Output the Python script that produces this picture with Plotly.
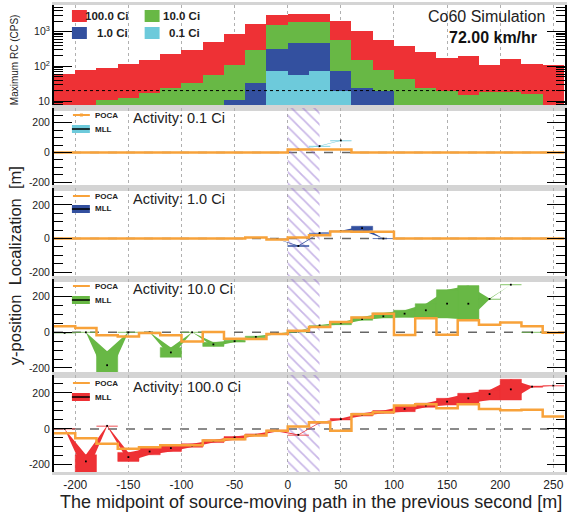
import plotly.graph_objects as go
from plotly.subplots import make_subplots

W, H = 568, 512
ML, MR, MT, MB = 54, 1, 5, 40
FONT = "Liberation Sans, Arial, sans-serif"

# ---------------- data ----------------
bin_centers = [-210, -190, -170, -150, -130, -110, -90, -70, -50, -30, -10,
               10, 30, 50, 70, 90, 110, 130, 150, 170, 190, 210, 230, 250]
bin_width = 20

# maximum rate count (CPS) per bin
rc_100ci = [61, 76, 89, 119, 152, 219, 303, 510, 830, 1620, 2970, 3160, 3160,
            2020, 1030, 590, 380, 253, 174, 194, 106, 163, 117, 106]
rc_10ci = [None, None, 10.7, 11.9, 16.7, 23.4, 34, 57, 111, 303, 1520, 1900,
           1900, 590, 156, 80, 44, 23, 20, 15, 18.6, 18.6, 16, None]
rc_1ci = [None] * 8 + [11, 34, 318, 477, 477, 74, 23, 20] + [None] * 8
rc_01ci = [None] * 10 + [74, 57, 71, 20] + [None] * 10
rc_threshold = 20

# POCA localization (m)
poca_01 = [0] * 11 + [20, 20, 20] + [0] * 10
poca_1 = [0] * 9 + [6, -6, 6, 19, 42, 40, 40] + [0] * 8
poca_10 = [34, 24, -17, -23, -4, -17, -51, 2, -36, -38, -9, 9, 30, 58, 83, 105,
           -15, 79, -13, 68, 43, 56, 34, -2]
poca_100 = [-24, -52, -83, -111, -102, -91, -91, -65, -57, -37, -11, 13, 37,
            -11, 81, 93, 130, 137, 115, 137, 111, 104, 107, 69]

# MLL localization (m): value, lower, upper
mll_01 = [None] * 11 + [20, 43, 81] + [None] * 10
mll_01_lo = [None] * 11 + [20, 41, 79] + [None] * 10
mll_01_hi = [None] * 11 + [20, 45, 83] + [None] * 10

mll_1 = [None] * 10 + [-3, -44, 33, 45, 62, 0] + [None] * 8
mll_1_lo = [None] * 10 + [-3, -47, 31, 43, 48, 0] + [None] * 8
mll_1_hi = [None] * 10 + [-3, -41, 35, 47, 73, 0] + [None] * 8

mll_10 = [-3, 0, -185, 0, 0, -113, 0, -68, -50, -26, -8, 5, 39, 51, 75, 90,
          105, 124, 161, 161, 188, 268, 0, None]
mll_10_lo = [-3, 0, -265, 0, 0, -140, 0, -79, -55, -30, -10, 3, 37, 43, 68, 81,
             85, 85, 81, 71, 186, 268, 0, None]
mll_10_hi = [-3, 0, -107, 0, 0, -85, 0, -56, -45, -22, -6, 7, 41, 56, 86, 109,
             124, 161, 240, 263, 190, 268, 0, None]

mll_100 = [0, -181, 17, -157, -126, -107, -94, -68, -48, -33, -10, -33, 35, 54,
           78, 93, 111, 130, 152, 170, 194, 220, 235, 241]
mll_100_lo = [0, -260, 15, -181, -144, -126, -102, -76, -61, -39, -15, -35, 33,
              50, 72, 87, 96, 120, 133, 143, 161, 161, 232, 240]
mll_100_hi = [0, -144, 19, -131, -107, -89, -83, -61, -43, -28, -7, -31, 37, 58,
              87, 102, 128, 143, 170, 198, 217, 276, 238, 242]

hatch_x = [0, 30]  # source-near region (m)

activities = ["0.1 Ci", "1.0 Ci", "10.0 Ci", "100.0 Ci"]
x_ticks = [-200, -150, -100, -50, 0, 50, 100, 150, 200, 250]
y_ticks = [-200, 0, 200]
rc_ticks = [10, 100, 1000]
rc_tick_text = ["10", "10<sup>2</sup>", "10<sup>3</sup>"]

# ---------------- styles ----------------
C_RED, C_GREEN, C_BLUE, C_CYAN = "#EE3135", "#68B845", "#33509F", "#6DCADB"
L_RED = "rgba(238,49,53,0.55)"
L_GREEN = "rgba(104,184,69,0.55)"
L_BLUE = "rgba(51,80,159,0.55)"
L_CYAN = "rgba(109,202,219,0.6)"
C_POCA = "#F8A23A"
XR = [-220, 261]
YR = [-240, 300]

fig = make_subplots(rows=5, cols=1, shared_xaxes=True, vertical_spacing=0,
                    row_heights=[103, 80, 91, 96, 97])

# top panel: overlaid histograms
for vals, col in [(rc_100ci, C_RED), (rc_10ci, C_GREEN), (rc_1ci, C_BLUE), (rc_01ci, C_CYAN)]:
    fig.add_trace(go.Bar(x=bin_centers, y=vals, width=bin_width, marker_color=col,
                         marker_line_width=0, hoverinfo="skip"), row=1, col=1)

edges = [c - bin_width / 2 for c in bin_centers] + [bin_centers[-1] + bin_width / 2]


def band_xy(vals, lo, hi):
    xs, ys = [], []
    run = []
    for i, v in enumerate(vals + [None]):
        if v is not None:
            run.append(i)
        elif run:
            xs += [bin_centers[j] for j in run] + [bin_centers[j] for j in reversed(run)] + [None]
            ys += [hi[j] for j in run] + [lo[j] for j in reversed(run)] + [None]
            run = []
    return xs, ys


def box_xy(vals, lo, hi):
    xs, ys = [], []
    for i, v in enumerate(vals):
        if v is None:
            continue
        a, b = bin_centers[i] - bin_width / 2, bin_centers[i] + bin_width / 2
        xs += [a, b, b, a, a, None]
        ys += [lo[i], lo[i], hi[i], hi[i], lo[i], None]
    return xs, ys


panels = [
    (poca_01, mll_01, mll_01_lo, mll_01_hi, C_CYAN, L_CYAN),
    (poca_1, mll_1, mll_1_lo, mll_1_hi, C_BLUE, L_BLUE),
    (poca_10, mll_10, mll_10_lo, mll_10_hi, C_GREEN, L_GREEN),
    (poca_100, mll_100, mll_100_lo, mll_100_hi, C_RED, L_RED),
]

for k, (poca, mv, lo, hi, col, lcol) in enumerate(panels):
    r = k + 2
    # hatched region
    fig.add_trace(go.Scatter(
        x=[hatch_x[0], hatch_x[1], hatch_x[1], hatch_x[0], hatch_x[0]],
        y=[YR[0], YR[0], YR[1], YR[1], YR[0]], mode="lines", line_width=0,
        fill="toself", fillcolor="rgba(0,0,0,0)",
        fillpattern=dict(shape="\\", fgcolor="#9470D0", bgcolor="rgba(0,0,0,0)",
                         size=8, solidity=0.22),
        hoverinfo="skip"), row=r, col=1)
    bx, by = band_xy(mv, lo, hi)
    fig.add_trace(go.Scatter(x=bx, y=by, mode="lines", fill="toself", fillcolor=col,
                             line=dict(color=col, width=0), connectgaps=False,
                             hoverinfo="skip"), row=r, col=1)
    rx, ry = box_xy(mv, lo, hi)
    fig.add_trace(go.Scatter(x=rx, y=ry, mode="lines", fill="toself", fillcolor=col,
                             line=dict(color=lcol, width=0.9), connectgaps=False,
                             hoverinfo="skip"), row=r, col=1)
    fig.add_trace(go.Scatter(x=bin_centers, y=mv, mode="markers",
                             marker=dict(color="black", size=1.8, symbol="square"),
                             hoverinfo="skip"), row=r, col=1)
    fig.add_trace(go.Scatter(x=edges, y=poca + [poca[-1]], mode="lines",
                             line=dict(color=C_POCA, width=2.5, shape="hv"),
                             hoverinfo="skip"), row=r, col=1)

# ---------------- axes ----------------
for r in range(1, 6):
    fig.update_xaxes(range=XR, showgrid=True, gridcolor="#b0b0b0", griddash="dot",
                     gridwidth=1, tickmode="array", tickvals=x_ticks,
                     ticktext=[str(v) for v in x_ticks], showline=True,
                     linecolor="#d4d4d4", linewidth=3, mirror=True, ticks="",
                     zeroline=False, showticklabels=(r == 5),
                     tickfont=dict(family=FONT, size=12, color="#222"), row=r, col=1)

fig.update_yaxes(type="log", range=[0.8, 3.765], tickmode="array", tickvals=rc_ticks,
                 ticktext=rc_tick_text, ticks="inside", ticklen=18, tickcolor="black",
                 showline=True, linecolor="black", linewidth=2, mirror="ticks",
                 showgrid=False, zeroline=False,
                 minor=dict(tickmode="array",
                            tickvals=[m * d for d in (1, 10, 100, 1000) for m in range(2, 10)],
                            ticks="inside", ticklen=9, tickcolor="black"),
                 tickfont=dict(family=FONT, size=10.5, color="#222"), row=1, col=1)
for r in range(2, 6):
    fig.update_yaxes(range=YR, tickmode="array", tickvals=y_ticks,
                     ticktext=[str(v) for v in y_ticks], ticks="inside", ticklen=18,
                     tickcolor="black", showline=True, linecolor="black", linewidth=2,
                     mirror="ticks", showgrid=False, zeroline=False,
                     minor=dict(tickmode="array", tickvals=list(range(-250, 301, 50)),
                                ticks="inside", ticklen=9, tickcolor="black"),
                     tickfont=dict(family=FONT, size=10.5, color="#222"), row=r, col=1)

PW, PH = W - ML - MR, H - MT - MB


def px(x):
    return (x - ML) / PW


def py(y):
    return (H - MB - y) / PH


shapes = []
annotations = []

# threshold line in top panel
shapes.append(dict(type="line", xref="x domain", x0=0, x1=1, yref="y",
                   y0=rc_threshold, y1=rc_threshold, layer="above",
                   line=dict(color="black", width=1, dash="dot")))
# zero lines
for r in range(2, 6):
    shapes.append(dict(type="line", xref=f"x{r} domain", x0=0, x1=1, yref=f"y{r}",
                       y0=0, y1=0, layer="below",
                       line=dict(color="#666", width=1.5, dash="dash")))

# top legend
for (x0, x1, y0, y1, col) in [(72, 87, 10, 22, C_RED), (145, 160, 10, 22, C_GREEN),
                               (72, 87, 27, 39, C_BLUE), (145, 160, 27, 39, C_CYAN)]:
    shapes.append(dict(type="rect", xref="paper", yref="paper", x0=px(x0), x1=px(x1),
                       y0=py(y1), y1=py(y0), fillcolor=col, line_width=0))
for (txt, xr, yc) in [("100.0 Ci", 130, 16), ("10.0 Ci", 203, 16),
                      ("1.0 Ci", 130, 33), ("0.1 Ci", 203, 33)]:
    annotations.append(dict(text=f"<b>{txt}</b>", xref="paper", yref="paper",
                            x=px(xr), y=py(yc), xanchor="right", yanchor="middle",
                            showarrow=False, font=dict(family=FONT, size=11.5, color="#222")))

annotations.append(dict(text="Co60 Simulation", xref="paper", yref="paper", x=px(549),
                        y=py(17), xanchor="right", yanchor="middle", showarrow=False,
                        font=dict(family=FONT, size=16, color="#222")))
annotations.append(dict(text="<b>72.00 km/hr</b>", xref="paper", yref="paper", x=px(541),
                        y=py(38), xanchor="right", yanchor="middle", showarrow=False,
                        font=dict(family=FONT, size=16, color="#111")))

# lower panel legends
leg_y = [(115, 129, 118), (196, 209, 199), (286, 300, 289), (383, 397, 387)]
fills = [C_CYAN, C_BLUE, C_GREEN, C_RED]
for k, (yp, ym, ya) in enumerate(leg_y):
    shapes.append(dict(type="line", xref="paper", yref="paper", x0=px(73), x1=px(90),
                       y0=py(yp), y1=py(yp), line=dict(color=C_POCA, width=2)))
    if k == 0:
        shapes.append(dict(type="rect", xref="paper", yref="paper", x0=px(80), x1=px(83),
                           y0=py(yp + 1.5), y1=py(yp - 1.5), fillcolor=C_POCA, line_width=0))
    shapes.append(dict(type="rect", xref="paper", yref="paper", x0=px(72), x1=px(90),
                       y0=py(ym + 4), y1=py(ym - 4), fillcolor=fills[k], line_width=0))
    shapes.append(dict(type="line", xref="paper", yref="paper", x0=px(72), x1=px(90),
                       y0=py(ym), y1=py(ym), line=dict(color="black", width=1.5)))
    annotations.append(dict(text="<b>POCA</b>", xref="paper", yref="paper", x=px(93),
                            y=py(yp), xanchor="left", yanchor="middle", showarrow=False,
                            font=dict(family=FONT, size=8, color="#222")))
    annotations.append(dict(text="<b>MLL</b>", xref="paper", yref="paper", x=px(93),
                            y=py(ym), xanchor="left", yanchor="middle", showarrow=False,
                            font=dict(family=FONT, size=8, color="#222")))
    annotations.append(dict(text=f"Activity: {activities[k]}", xref="paper", yref="paper",
                            x=px(131), y=py(ya), xanchor="left", yanchor="middle",
                            showarrow=False, font=dict(family=FONT, size=14.5, color="#222")))

# axis titles
annotations.append(dict(text="Maximum RC (CPS)", xref="paper", yref="paper", x=px(14),
                        y=py(60), xanchor="center", yanchor="middle", textangle=-90,
                        showarrow=False, font=dict(family=FONT, size=10, color="#222")))
annotations.append(dict(text="y-position  Localization  [m]", xref="paper", yref="paper",
                        x=px(15), y=py(266), xanchor="center", yanchor="middle",
                        textangle=-90, showarrow=False,
                        font=dict(family=FONT, size=16.5, color="#222")))
annotations.append(dict(text="The midpoint of source-moving path in the previous second [m]",
                        xref="paper", yref="paper", x=px(566), y=py(502), xanchor="right",
                        yanchor="middle", showarrow=False,
                        font=dict(family=FONT, size=18, color="#222")))

fig.update_layout(width=W, height=H, margin=dict(l=ML, r=MR, t=MT, b=MB),
                  barmode="overlay", bargap=0, showlegend=False,
                  plot_bgcolor="white", paper_bgcolor="white",
                  shapes=shapes, annotations=annotations,
                  font=dict(family=FONT))

fig.write_html("out.html")
